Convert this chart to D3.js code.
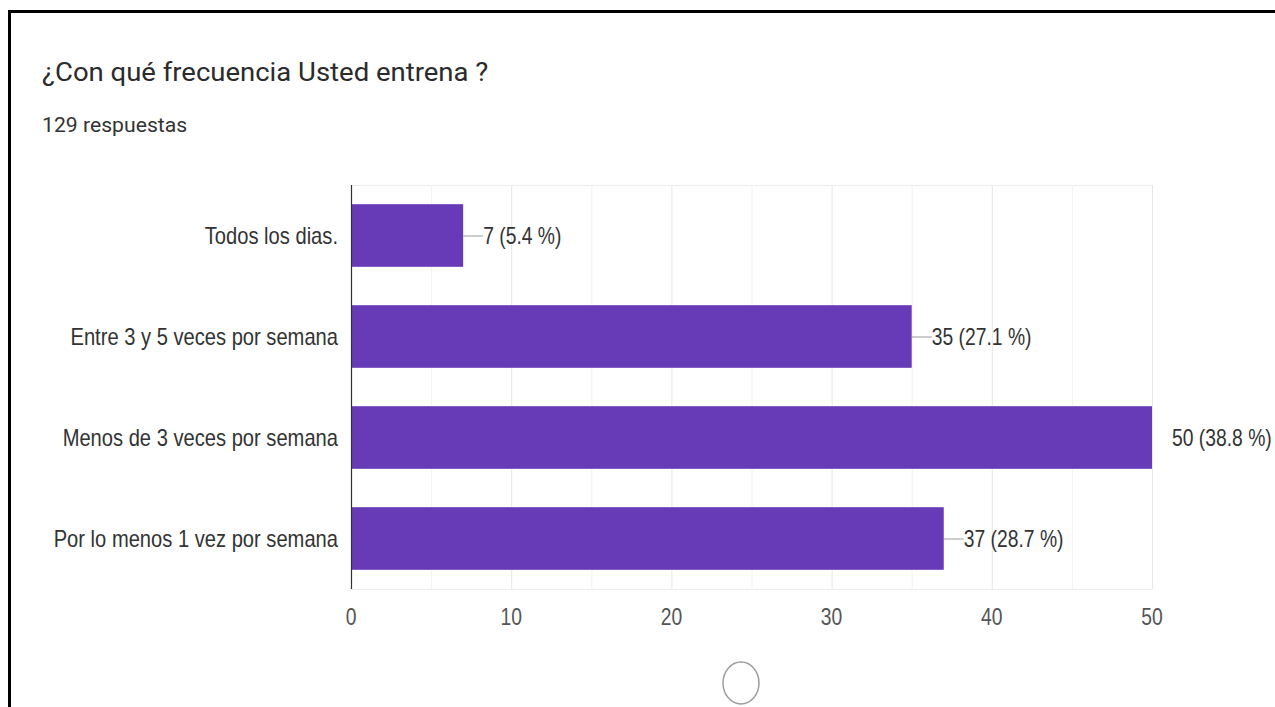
<!DOCTYPE html>
<html>
<head>
<meta charset="utf-8">
<script src="https://cdn.jsdelivr.net/npm/d3@7"></script>
<style>
  html, body { margin: 0; padding: 0; background: #fff; }
  svg { display: block; }
</style>
</head>
<body>
<script>
// Survey: how often do you train?
const categories = [
  "Todos los dias.",
  "Entre 3 y 5 veces por semana",
  "Menos de 3 veces por semana",
  "Por lo menos 1 vez por semana"
];
const counts = [7, 35, 50, 37];
const percents = [5.4, 27.1, 38.8, 28.7];
const tickValues = [0, 10, 20, 30, 40, 50];
const gridValues = [5, 10, 15, 20, 25, 30, 35, 40, 45, 50];
const title = "¿Con qué frecuencia Usted entrena ?";
const subtitle = "129 respuestas";

const W = 1275, H = 707;
const plot = { left: 351, right: 1152, top: 185, bottom: 589 };
const SANS = "'Liberation Sans', Arial, sans-serif";
const ROBOTO = "Roboto, sans-serif";

const svg = d3.select("body").append("svg")
  .attr("width", W).attr("height", H);

// text placed at (x, y) with a horizontal scale factor
function label(sel, opts) {
  return sel.attr("transform", d => {
    const px = typeof opts.x === "function" ? opts.x(d) : opts.x;
    const py = typeof opts.y === "function" ? opts.y(d) : opts.y;
    return `translate(${px},${py}) scale(${opts.sx},1)`;
  })
    .attr("font-family", opts.family)
    .attr("font-size", opts.size)
    .attr("fill", opts.fill)
    .attr("text-anchor", opts.anchor || "start");
}

// frame (top and left edges)
svg.append("path")
  .attr("d", `M9.5,${H} V11.5 H${W}`)
  .attr("fill", "none").attr("stroke", "#000").attr("stroke-width", 3);

label(svg.append("text"), { x: 42, y: 81, sx: 1.1, family: ROBOTO, size: 25, fill: "#2b2b2b" })
  .text(title);

label(svg.append("text"), { x: 42, y: 132, sx: 1.06, family: ROBOTO, size: 20, fill: "#333" })
  .text(subtitle);

const x = d3.scaleLinear().domain([0, 50]).range([plot.left, plot.right]);
const y = d3.scaleBand().domain(categories)
  .range([plot.top, plot.bottom]).paddingInner(0.38).paddingOuter(0.19);

// grid
const g = svg.append("g");
g.selectAll("line.grid").data(gridValues).join("line")
  .attr("class", "grid")
  .attr("x1", d => x(d) + 0.5).attr("x2", d => x(d) + 0.5)
  .attr("y1", plot.top).attr("y2", plot.bottom)
  .attr("stroke", d => d % 10 === 0 ? "#e6e6e6" : "#f2f2f2");
[plot.top, plot.bottom].forEach(yy => {
  g.append("line")
    .attr("x1", plot.left).attr("x2", plot.right)
    .attr("y1", yy + 0.5).attr("y2", yy + 0.5)
    .attr("stroke", "#ececec");
});

// bars
const data = categories.map((c, i) => ({ c, v: counts[i], p: percents[i] }));
const maxV = d3.max(counts);
svg.selectAll("rect.bar").data(data).join("rect")
  .attr("class", "bar")
  .attr("x", x(0)).attr("y", d => y(d.c))
  .attr("width", d => x(d.v) - x(0))
  .attr("height", y.bandwidth())
  .attr("fill", "#673ab7");

// axis line
svg.append("line")
  .attr("x1", x(0) + 0.5).attr("x2", x(0) + 0.5)
  .attr("y1", plot.top).attr("y2", plot.bottom)
  .attr("stroke", "#333").attr("stroke-width", 1.2);

const mid = d => y(d.c) + y.bandwidth() / 2;

// category labels
label(svg.selectAll("text.cat").data(data).join("text").attr("class", "cat"),
  { x: 338, y: d => mid(d) + 8, sx: 0.876, family: SANS, size: 23, fill: "#333", anchor: "end" })
  .text(d => d.c);

// value labels with leader lines
svg.selectAll("line.lead").data(data.filter(d => d.v !== maxV)).join("line")
  .attr("class", "lead")
  .attr("x1", d => x(d.v)).attr("x2", d => x(d.v) + 20)
  .attr("y1", d => mid(d) + 0.5).attr("y2", d => mid(d) + 0.5)
  .attr("stroke", "#999");
label(svg.selectAll("text.val").data(data).join("text").attr("class", "val"),
  { x: d => x(d.v) + 20, y: d => mid(d) + 8, sx: 0.84, family: SANS, size: 23, fill: "#333" })
  .text(d => `${d.v} (${d.p} %)`);

// x tick labels
label(svg.selectAll("text.tick").data(tickValues).join("text").attr("class", "tick"),
  { x: d => x(d), y: 625, sx: 0.84, family: SANS, size: 23, fill: "#555", anchor: "middle" })
  .text(d => d);

// page indicator
svg.append("ellipse")
  .attr("cx", 741).attr("cy", 683).attr("rx", 18).attr("ry", 21)
  .attr("fill", "none").attr("stroke", "#9e9e9e").attr("stroke-width", 1.5);
</script>
</body>
</html>
